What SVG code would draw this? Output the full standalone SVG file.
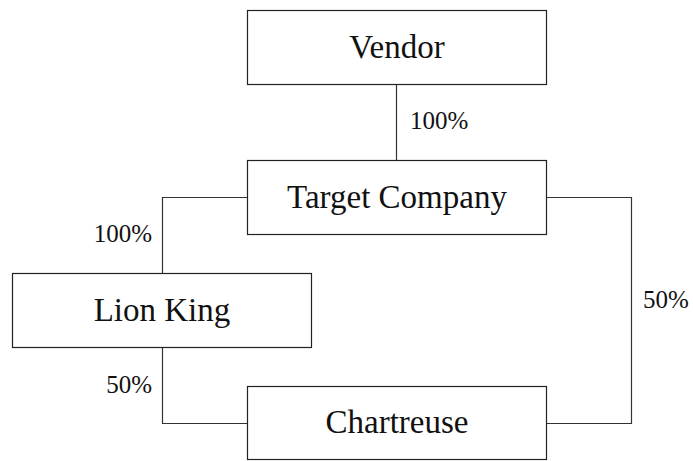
<svg xmlns="http://www.w3.org/2000/svg" width="693" height="461" viewBox="0 0 693 461">
<style>
.box{fill:#fff;stroke:#222;stroke-width:1.2}
.conn{fill:none;stroke:#333;stroke-width:1.2}
.lbl{font-family:"Liberation Serif","Times New Roman",serif;font-size:33px;fill:#111;text-anchor:middle}
.pct{font-family:"Liberation Serif","Times New Roman",serif;font-size:25px;fill:#111}
</style>
<rect width="693" height="461" fill="#fff"/>
<g id="connectors">
<path class="conn" d="M396.5 84V160"/>
<path class="conn" d="M247 197.5H162.5V273"/>
<path class="conn" d="M162.5 347V423.5H247"/>
<path class="conn" d="M546 197.5H631.5V423.5H547"/>
<text class="pct" font-family="Liberation Serif, serif" x="410" y="129">100%</text>
<text class="pct" font-family="Liberation Serif, serif" x="152" y="242" text-anchor="end">100%</text>
<text class="pct" font-family="Liberation Serif, serif" x="152" y="393" text-anchor="end">50%</text>
<text class="pct" font-family="Liberation Serif, serif" x="643" y="308">50%</text>
</g>
<g id="vendor">
<rect class="box" x="247.5" y="10.5" width="299" height="74"/>
<text class="lbl" x="397" y="58">Vendor</text>
</g>
<g id="target">
<rect class="box" x="247.5" y="160.5" width="299" height="74"/>
<text class="lbl" x="397" y="208">Target Company</text>
</g>
<g id="lionking">
<rect class="box" x="12.5" y="273.5" width="299" height="74"/>
<text class="lbl" x="162" y="321">Lion King</text>
</g>
<g id="chartreuse">
<rect class="box" x="247.5" y="386.5" width="299" height="73"/>
<text class="lbl" x="397" y="433">Chartreuse</text>
</g>
</svg>
